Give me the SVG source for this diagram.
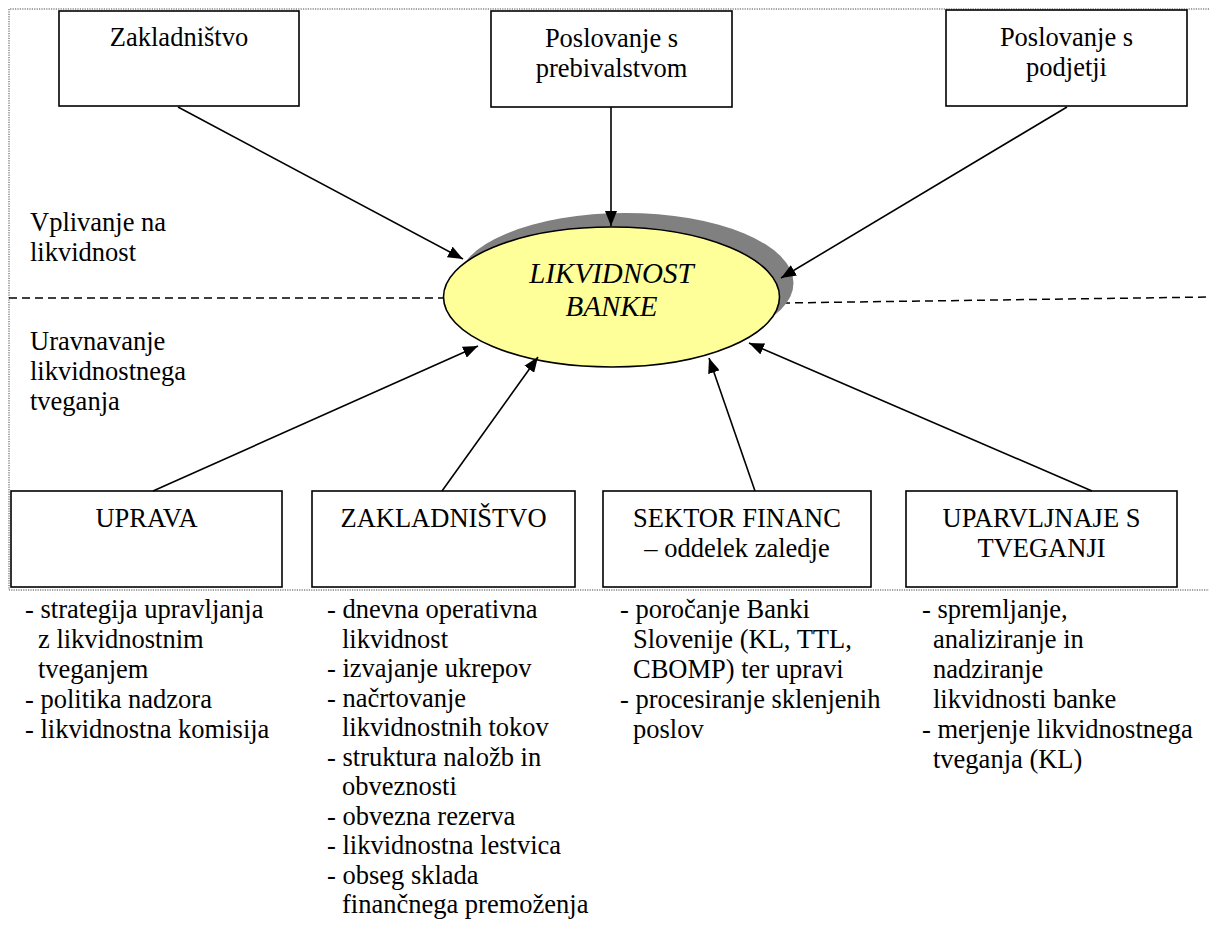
<svg xmlns="http://www.w3.org/2000/svg" width="1209" height="930" viewBox="0 0 1209 930" font-family="'Liberation Serif', 'Times New Roman', 'DejaVu Serif', serif" font-size="26.5">
<style>
.c{text-anchor:middle}
.box{fill:#fff;stroke:#000;stroke-width:1.6}
.dot{fill:none;stroke:#444;stroke-width:1;stroke-dasharray:1.2 1.2}
.dash{fill:none;stroke:#000;stroke-width:1.5;stroke-dasharray:8 5}
.conn{stroke:#000;stroke-width:1.6;fill:none;marker-end:url(#ah)}
</style>
<defs>
<marker id="ah" markerUnits="userSpaceOnUse" markerWidth="16" markerHeight="12" refX="15" refY="6" orient="auto">
<path d="M0,0 L15,6 L0,12 z" fill="#000"/>
</marker>
</defs>
<rect width="1209" height="930" fill="#fff"/>
<g id="frame">
<path class="dot" d="M1209,9 H9 V590 H1209"/>
<path class="dash" d="M9,298 H445"/>
<path class="dash" d="M782,303 L1209,297"/>
</g>
<g id="labels-left">
<text x="30" y="231">Vplivanje na</text>
<text x="30" y="261">likvidnost</text>
<text x="30" y="350">Uravnavanje</text>
<text x="30" y="380">likvidnostnega</text>
<text x="30" y="410">tveganja</text>
</g>
<g id="center">
<ellipse cx="625.5" cy="283" rx="168" ry="70" fill="#808080"/>
<ellipse cx="611.5" cy="297" rx="168" ry="70" fill="#ffff99" stroke="#000" stroke-width="1.6"/>
<text class="c" x="611.5" y="283" font-style="italic" font-size="29">LIKVIDNOST</text>
<text class="c" x="611.5" y="316" font-style="italic" font-size="29">BANKE</text>
</g>
<g id="n-zakladnistvo-top">
<rect class="box" x="59" y="11" width="240" height="95"/>
<text class="c" x="179" y="46">Zakladništvo</text>
</g>
<g id="n-prebivalstvo">
<rect class="box" x="491" y="11" width="241" height="96"/>
<text class="c" x="611.5" y="47">Poslovanje s</text>
<text class="c" x="611.5" y="77">prebivalstvom</text>
</g>
<g id="n-podjetja">
<rect class="box" x="946" y="10" width="241" height="96"/>
<text class="c" x="1066.5" y="46">Poslovanje s</text>
<text class="c" x="1066.5" y="76">podjetji</text>
</g>
<g id="n-uprava">
<rect class="box" x="11" y="491" width="271" height="96"/>
<text class="c" x="146.5" y="527">UPRAVA</text>
</g>
<g id="n-zakladnistvo">
<rect class="box" x="312" y="491" width="263" height="96"/>
<text class="c" x="443.5" y="527">ZAKLADNIŠTVO</text>
</g>
<g id="n-sektor">
<rect class="box" x="603" y="491" width="268" height="96"/>
<text class="c" x="737" y="527">SEKTOR FINANC</text>
<text class="c" x="737" y="557">– oddelek zaledje</text>
</g>
<g id="n-tveganja">
<rect class="box" x="906" y="491" width="271" height="96"/>
<text class="c" x="1041.5" y="527">UPARVLJNAJE S</text>
<text class="c" x="1041.5" y="557">TVEGANJI</text>
</g>
<g id="connectors">
<line class="conn" x1="178" y1="107" x2="463" y2="259"/>
<line class="conn" x1="611" y1="107" x2="611" y2="226"/>
<line class="conn" x1="1067" y1="107" x2="781" y2="278"/>
<line class="conn" x1="153" y1="491" x2="478" y2="346"/>
<line class="conn" x1="442" y1="491" x2="538" y2="357"/>
<line class="conn" x1="755" y1="491" x2="709" y2="358"/>
<line class="conn" x1="1092" y1="491" x2="749" y2="343"/>
</g>
<g id="list-uprava">
<text x="25" y="618">- strategija upravljanja</text>
<text x="38" y="648">z likvidnostnim</text>
<text x="38" y="678">tveganjem</text>
<text x="25" y="708">- politika nadzora</text>
<text x="25" y="738">- likvidnostna komisija</text>
</g>
<g id="list-zakladnistvo">
<text x="327" y="618">- dnevna operativna</text>
<text x="342" y="647.5">likvidnost</text>
<text x="327" y="677">- izvajanje ukrepov</text>
<text x="327" y="706.5">- načrtovanje</text>
<text x="342" y="736">likvidnostnih tokov</text>
<text x="327" y="765.5">- struktura naložb in</text>
<text x="342" y="795">obveznosti</text>
<text x="327" y="824.5">- obvezna rezerva</text>
<text x="327" y="854">- likvidnostna lestvica</text>
<text x="327" y="883.5">- obseg sklada</text>
<text x="342" y="913">finančnega premoženja</text>
</g>
<g id="list-sektor">
<text x="620" y="618">- poročanje Banki</text>
<text x="633" y="648">Slovenije (KL, TTL,</text>
<text x="633" y="678">CBOMP) ter upravi</text>
<text x="620" y="708">- procesiranje sklenjenih</text>
<text x="633" y="738">poslov</text>
</g>
<g id="list-tveganja">
<text x="922" y="618">- spremljanje,</text>
<text x="933" y="648">analiziranje in</text>
<text x="933" y="678">nadziranje</text>
<text x="933" y="708">likvidnosti banke</text>
<text x="922" y="738">- merjenje likvidnostnega</text>
<text x="933" y="768">tveganja (KL)</text>
</g>
</svg>
